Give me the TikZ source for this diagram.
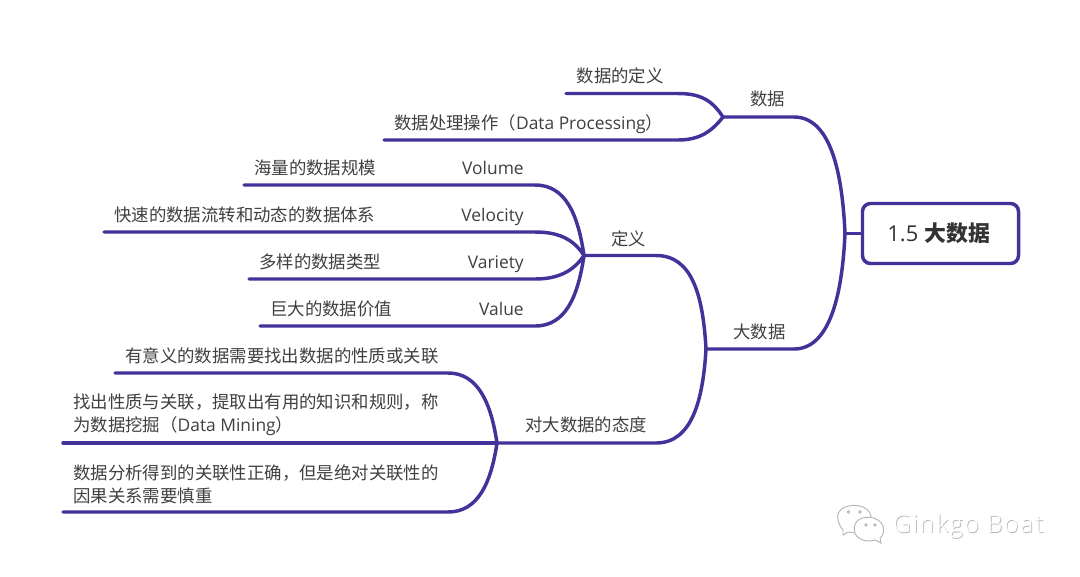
\documentclass[tikz,border=0pt]{standalone}
\usepackage{fontspec}
\setmainfont{Open Sans}
\newfontfamily\cjkfont{Noto Sans CJK SC}
\newfontfamily\markfont[LetterSpace=8]{Open Sans Light}
\newcommand{\zh}[1]{{\cjkfont #1}}
\definecolor{branch}{HTML}{43329A}
\definecolor{ink}{HTML}{404040}
\definecolor{rootink}{HTML}{333333}
\definecolor{markline}{HTML}{B4B4B4}
\tikzset{
  link/.style={draw=branch,line width=2.6pt,line cap=round},
  label/.style={text=ink,inner sep=0pt,font=\fontsize{13.05}{17}\selectfont,anchor=base west},
  para/.style={text=ink,inner sep=0pt,font=\fontsize{13.05}{17}\selectfont,anchor=west,align=left},
  tag/.style={text=ink,inner sep=0pt,font=\fontsize{13.05}{17}\selectfont,anchor=base east},
  rootbox/.style={draw=branch,line width=2.6pt,rounded corners=6pt,fill=white,
    minimum width=117pt,minimum height=45pt,inner sep=0pt,text=rootink,
    font=\fontsize{16.4}{20}\selectfont},
  bubble/.style={draw=markline,line width=.7pt,fill=white},
  markshade/.style={anchor=west,inner sep=0pt,text=markline,font=\markfont\fontsize{18.2}{20}\selectfont},
  marktop/.style={anchor=west,inner sep=0pt,text=white,font=\markfont\fontsize{18.2}{20}\selectfont},
}
\begin{document}
\begin{tikzpicture}[x=.75pt,y=-.75pt]
\useasboundingbox[fill=white] (0,0) rectangle (1080,576);

% central topic and junctions
\node[rootbox] (root) at (940.5,233.5) {1.5\hspace{.5pt} {\cjkfont\bfseries 大数据}\hspace*{2.5pt}};
\coordinate (hub) at (845,233.5);
\coordinate (data) at (723,117);
\coordinate (big) at (706,349);
\coordinate (define) at (584,255.5);
\coordinate (attitude) at (497,443);

% free ends of the leaf branches
\coordinate (d1) at (566,93.5);
\coordinate (d2) at (384,140);
\coordinate (v1) at (244,185);
\coordinate (v2) at (104,232);
\coordinate (v3) at (249,279);
\coordinate (v4) at (260,326);
\coordinate (a1) at (115,373);
\coordinate (a2) at (63,443);
\coordinate (a3) at (63,512);

% trunk branches
\draw[link] (root.west |- hub) -- (hub);
\draw[link] (hub) .. controls (842,165) and (828,117) .. (794,117) -- (data);
\draw[link] (hub) .. controls (842,300) and (828,349) .. (794,349) -- (big);
\draw[link] (big) .. controls (703,295) and (692,255.5) .. (656,255.5) -- (define);
\draw[link] (big) .. controls (703,400) and (692,443) .. (656,443) -- (attitude);

% leaves of the first branch
\draw[link] (data) .. controls (712,100) and (700,93.5) .. (678,93.5) -- (d1);
\draw[link] (data) .. controls (712,131) and (700,140) .. (678,140) -- (d2);

% leaves of the definition branch
\draw[link] (define) .. controls (578,215) and (566,185) .. (535,185) -- (v1);
\draw[link] (define) .. controls (574,240) and (560,232) .. (535,232) -- (v2);
\draw[link] (define) .. controls (574,270) and (560,279) .. (535,279) -- (v3);
\draw[link] (define) .. controls (578,296) and (566,326) .. (535,326) -- (v4);

% leaves of the attitude branch
\draw[link] (attitude) .. controls (491,403) and (478,373) .. (448,373) -- (a1);
\draw[link] (attitude) -- (a2);
\draw[link] (attitude) .. controls (491,483) and (478,512) .. (448,512) -- (a3);

% labels
\node[label] (tdata) at (750,105.7) {\zh{数据}};
\node[label] (tbig) at (733,338) {\zh{大数据}};
\node[label] (tdef) at (611,245) {\zh{定义}};
\node[label] (tatt) at (525,431.5) {\zh{对大数据的态度}};
\node[label] (td1) at (576.5,82) {\zh{数据的定义}};
\node[label] (td2) at (394,129) {\zh{数据处理操作（}Data Processing\zh{）}};
\node[label] (tv1) at (254,174) {\zh{海量的数据规模}};
\node[label] (tv2) at (114,221) {\zh{快速的数据流转和动态的数据体系}};
\node[label] (tv3) at (259,268) {\zh{多样的数据类型}};
\node[label] (tv4) at (270,315) {\zh{巨大的数据价值}};
\node[tag] (nv1) at (524,174) {Volume};
\node[tag] (nv2) at (524,221) {Velocity};
\node[tag] (nv3) at (524,268) {Variety};
\node[tag] (nv4) at (524,315) {Value};
\node[label] (ta1) at (125,362.5) {\zh{有意义的数据需要找出数据的性质或关联}};
\node[para] (ta2) at (73,415)
  {\zh{找出性质与关联，提取出有用的知识和规则，称}\\\zh{为数据挖掘（}Data Mining\zh{）}};
\node[para] (ta3) at (73,484.5)
  {\zh{数据分析得到的关联性正确，但是绝对关联性的}\\\zh{因果关系需要慎重}};

% embossed account mark
\draw[bubble] (843,530) .. controls (838,524) and (836,516) .. (839,512)
  .. controls (843,504) and (864,502) .. (870,513)
  .. controls (873,520) and (871,530) .. (858,532)
  .. controls (854,533) and (851,533) .. (848,532) -- (843,535) -- cycle;
\draw[bubble] (859,538) .. controls (852,534) and (853,522) .. (860,519)
  .. controls (868,515) and (880,518) .. (883,526)
  .. controls (885,532) and (882,537) .. (880,538) -- (881,543) -- (875,540)
  .. controls (870,542) and (863,541) .. (859,538) -- cycle;
\foreach \ex/\ey in {848.5/512,860/512,866/525,875/525}
  \draw[markline,line width=.6pt] (\ex,\ey) circle (1.3);
\node[markshade] (wmshade) at (893.8,526.8) {Ginkgo Boat};
\node[marktop] (wm) at (893,526) {Ginkgo Boat};
\end{tikzpicture}
\end{document}
